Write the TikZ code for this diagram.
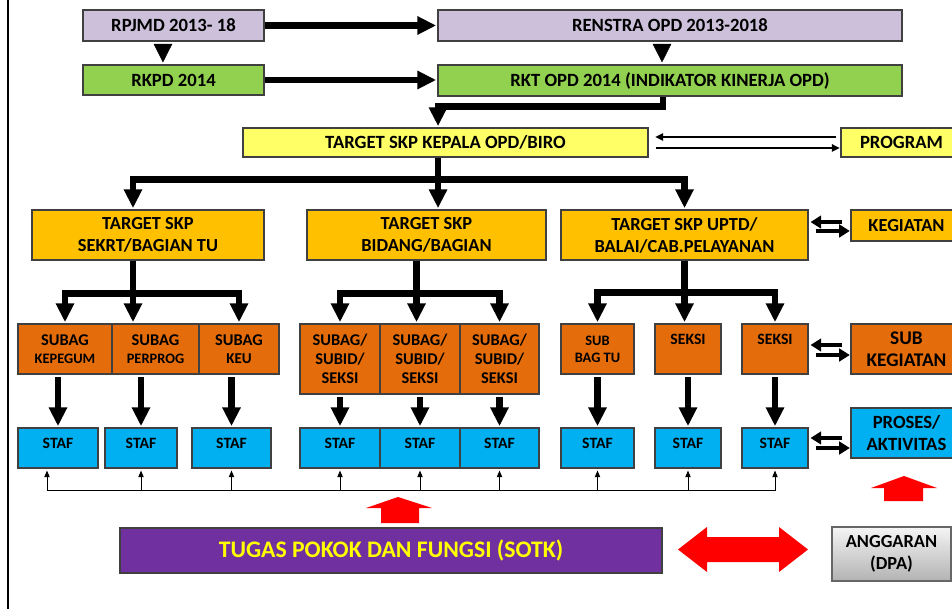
\documentclass[tikz,border=0pt]{standalone}
\usepackage{fontspec}
\setmainfont{Carlito}
\usepackage{tikz}
\usetikzlibrary{arrows.meta,calc}
\definecolor{klav}{HTML}{CCC0DA}
\definecolor{kgrn}{HTML}{92D050}
\definecolor{kylw}{HTML}{FFFF66}
\definecolor{kgld}{HTML}{FFC000}
\definecolor{korg}{HTML}{E46C0A}
\definecolor{kcyn}{HTML}{00B0F0}
\definecolor{kpur}{HTML}{7030A0}
\definecolor{ktxt}{HTML}{FFFF00}

\begin{document}
\begin{tikzpicture}[x=0.75pt,y=-0.75pt,
  spot/.style args={#1/#2/#3/#4}{minimum width={(#3-#1)*0.75pt},minimum height={(#4-#2)*0.75pt},at={({(#1+#3)/2},{(#2+#4)/2})}},
  box/.style={draw=black!75,line width=0.8pt,inner sep=0pt,align=center,font=\bfseries\fontsize{14}{16.5}\selectfont},
  lav/.style={box,fill=klav},
  grn/.style={box,fill=kgrn},
  ylw/.style={box,fill=kylw},
  gld/.style={box,fill=kgld,font=\bfseries\fontsize{13.8}{16.5}\selectfont},
  org/.style={box,fill=korg,font=\bfseries\fontsize{12.3}{13.5}\selectfont},
  cyn/.style={box,fill=kcyn,font=\bfseries\fontsize{14}{16.5}\selectfont},
  staf/.style={box,fill=kcyn,font=\bfseries\fontsize{11.8}{14}\selectfont,text depth=7.5pt},
  bigline/.style={line width=5pt},
  bigarrow/.style={bigline,-{Triangle[length=14pt,width=13pt]},shorten >=1pt},
  tri/.style={line width=0.4pt,-{Triangle[length=14pt,width=14pt]},shorten <=2pt,shorten >=1.5pt},
  midarrow/.style={line width=3pt,-{Triangle[length=8pt,width=9.5pt]}},
  thinarrow/.style={line width=1.3pt,-{Triangle[length=6pt,width=5.5pt]}},
  fbarrow/.style={line width=0.75pt,-{Triangle[length=5pt,width=4pt]},shorten >=1.5pt}]
\useasboundingbox[fill=white] (0,0) rectangle (952,609);
\draw[line width=1.5pt] (8,0) -- (8,609);

\node[lav,spot=83/10/264/41] (rpjmd) {RPJMD 2013- 18};
\node[lav,spot=438/10/902/41] (renstra) {RENSTRA OPD 2013-2018};
\node[grn,spot=83/65/264/95] (rkpd) {RKPD 2014};
\node[grn,spot=438/65/902/96] (rkt) {RKT OPD 2014 (INDIKATOR KINERJA OPD)};
\node[ylw,spot=243/128/648/157] (kepala) {TARGET SKP KEPALA OPD/BIRO};
\node[ylw,spot=841/128/962/157] (program) {PROGRAM};

\node[gld,spot=32/210/264/260] (sekrt) {TARGET SKP\\SEKRT/BAGIAN TU};
\node[gld,spot=307/210/546/260] (bidang) {TARGET SKP\\BIDANG/BAGIAN};
\node[gld,spot=561/210/808/260] (uptd) {TARGET SKP UPTD/\\BALAI/CAB.PELAYANAN};
\node[gld,spot=851/210/962/241] (kegiatan) {KEGIATAN};

\node[org,spot=18/324/112/374] (subA) {SUBAG\\{\fontsize{10.8}{13.5}\selectfont KEPEGUM}};
\node[org,spot=112/324/199/374] (subB) {SUBAG\\{\fontsize{10.8}{13.5}\selectfont PERPROG}};
\node[org,spot=199/324/279/374] (subC) {SUBAG\\{\fontsize{11.3}{13.5}\selectfont KEU}};
\node[org,spot=300/324/380/394,font=\bfseries\fontsize{12.3}{14.25}\selectfont] (subD) {SUBAG/\\SUBID/\\SEKSI};
\node[org,spot=380/324/460/394,font=\bfseries\fontsize{12.3}{14.25}\selectfont] (subE) {SUBAG/\\SUBID/\\SEKSI};
\node[org,spot=460/324/539/394,font=\bfseries\fontsize{12.3}{14.25}\selectfont] (subF) {SUBAG/\\SUBID/\\SEKSI};
\node[org,spot=561/324/634/374,font=\bfseries\fontsize{10.8}{12.75}\selectfont] (subG) {SUB\\BAG TU};
\node[org,spot=655/324/721/374,font=\bfseries\fontsize{11.8}{14}\selectfont,text depth=15pt] (subH) {SEKSI};
\node[org,spot=742/324/808/374,font=\bfseries\fontsize{11.8}{14}\selectfont,text depth=15pt] (subI) {SEKSI};
\node[org,spot=851/324/962/374,font=\bfseries\fontsize{14.5}{16.5}\selectfont] (subkeg) {SUB\\KEGIATAN};

\foreach \n/\l/\r in {stafA/18/98,stafB/105/177,stafC/192/271,stafD/300/380,stafE/380/460,stafF/460/539,stafG/561/634,stafH/655/721,stafI/742/808}
  \node[staf,spot=\l/428/\r/468] (\n) {STAF};
\node[cyn,spot=851/408/962/458] (proses) {PROSES/\\AKTIVITAS};

\node[box,fill=kpur,text=ktxt,spot=120/528/662/573,font=\bfseries\fontsize{17.8}{20}\selectfont] (tupoksi) {TUGAS POKOK DAN FUNGSI (SOTK)};
\node[box,draw=black!60,top color=black!4,bottom color=black!30,spot=832/527/951/581,font=\bfseries\fontsize{13.8}{17}\selectfont] (anggaran) {ANGGARAN\\(DPA)};

\draw[bigarrow] (rpjmd) -- (renstra);
\draw[bigarrow] (rkpd.east) -- (rkpd.east -| rkt.west);
\draw[tri] ([xshift=-7.9pt]rpjmd.south) -- ([xshift=-7.9pt]rkpd.north);
\draw[tri] ([xshift=-6pt]renstra.south) -- ([xshift=-6pt]rkt.north);
\draw[bigarrow] ([xshift=-5.25pt]rkt.south) -- ++(0,10) -| ([xshift=-5.6pt]kepala.north);

\draw[bigline] ([xshift=-5.6pt]kepala.south) -- ++(0,22) coordinate (jK);
\draw[bigarrow] (jK) -| ([xshift=-11.25pt]sekrt.north);
\draw[bigarrow] (jK) -- (jK |- bidang.north);
\draw[bigarrow] (jK) -| (uptd.north);

\draw[bigline] ([xshift=-11.25pt]sekrt.south) -- ++(0,33) coordinate (jA);
\draw[bigline] ([xshift=-7.5pt]bidang.south) -- ++(0,33) coordinate (jB);
\draw[bigline] (uptd.south) -- ++(0,32) coordinate (jC);
\foreach \j/\l/\m/\r in {jA/subA/subB/subC,jB/subD/subE/subF,jC/subG/subH/subI}{
  \draw[bigarrow] (\j) -| (\l.north);
  \draw[bigarrow] (\j) -- (\j |- \m.north);
  \draw[bigarrow] (\j) -| (\r.north);
}

\foreach \s/\t in {subA/stafA,subB/stafB,subC/stafC,subD/stafD,subE/stafE,subF/stafF,subG/stafG,subH/stafH,subI/stafI}
  \draw[bigarrow,shorten <=2pt] (\t.north |- \s.south) -- (\t.north);

\coordinate (fbL) at ([xshift=-8.25pt,yshift=-16.5pt]stafA.south);
\draw[line width=0.75pt] (fbL) -- (fbL -| stafI.south);
\draw[fbarrow] (fbL) -- ([xshift=-8.25pt]stafA.south);
\foreach \t in {stafB,stafC,stafD,stafE,stafF,stafG,stafH,stafI}
  \draw[fbarrow] (\t.south |- fbL) -- (\t.south);

\draw[thinarrow,shorten >=5pt] ([shift={(-3pt,4.1pt)}]program.west) -- ([yshift=4.1pt]program.west -| kepala.east);
\draw[thinarrow,shorten >=0.5pt] ([shift={(5.25pt,-4.1pt)}]program.west -| kepala.east) -- ([yshift=-4.1pt]program.west);
\foreach \a/\b/\u/\d in {uptd/kegiatan/2.6/-4.1,subI/subkeg/3/-4.5,stafI/proses/-3.75/-11.25}{
  \draw[midarrow,shorten >=1.5pt] ([shift={(-6pt,\u pt)}]\b.west) -- ([yshift=\u pt]\b.west -| \a.east);
  \draw[midarrow,shorten >=0.5pt] ([shift={(5.25pt,\d pt)}]\b.west -| \a.east) -- ([yshift=\d pt]\b.west);
}

\fill[red] (398,497) -- (432,508) -- (419,508) -- (419,523) -- (381,523) -- (381,508) -- (366,508) -- cycle;
\fill[red] (904,476) -- (937,488) -- (923,488) -- (923,501) -- (884,501) -- (884,488) -- (871,488) -- cycle;
\fill[red] (678,549.5) -- (707,527) -- (707,537) -- (779,537) -- (779,527) -- (808,549.5) -- (779,572) -- (779,562) -- (707,562) -- (707,572) -- cycle;
\end{tikzpicture}
\end{document}
